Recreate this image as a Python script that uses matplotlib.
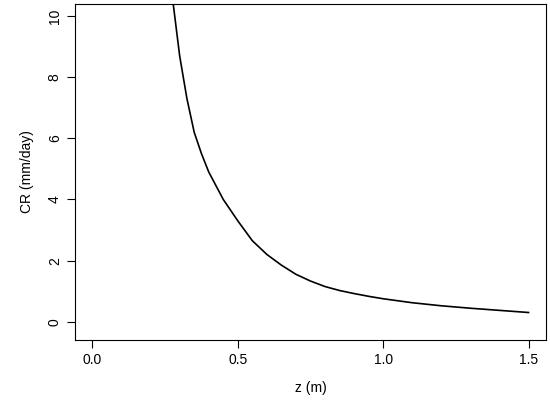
import matplotlib
matplotlib.use("Agg")
import matplotlib.pyplot as plt

z = [0.25, 0.27, 0.30, 0.325, 0.35, 0.375, 0.40, 0.45, 0.50, 0.55, 0.60, 0.65, 0.70,
     0.75, 0.80, 0.85, 0.90, 0.95, 1.00, 1.10, 1.20, 1.30, 1.40, 1.50]
cr = [12.5, 11.0, 8.7, 7.3, 6.2, 5.5, 4.9, 4.0, 3.3, 2.65, 2.2, 1.85, 1.55,
      1.33, 1.15, 1.02, 0.92, 0.83, 0.75, 0.62, 0.52, 0.44, 0.37, 0.30]
xticks = [0.0, 0.5, 1.0, 1.5]
yticks = [0, 2, 4, 6, 8, 10]

plt.rcParams['font.family'] = ['Liberation Sans', 'DejaVu Sans']
fig = plt.figure(figsize=(5.5, 4.16), dpi=100)
ax = fig.add_axes([75/550, 1-340/416, 471/550, 336/416])
ax.plot(z, cr, color='black', lw=1.2)
ax.set_xlim(-0.06, 1.56)
ax.set_ylim(-0.6, 10.4)
ax.set_xticks(xticks)
ax.set_xticklabels([f"{v:.1f}" for v in xticks])
ax.set_yticks(yticks)
ax.set_yticklabels([str(v) for v in yticks], rotation=90, va='center')
ax.tick_params(direction='out', length=6, labelsize=10)
ax.set_xlabel("z (m)", fontsize=10, labelpad=10)
ax.set_ylabel("CR (mm/day)", fontsize=10, labelpad=10)
fig.savefig("out.png", dpi=100)
